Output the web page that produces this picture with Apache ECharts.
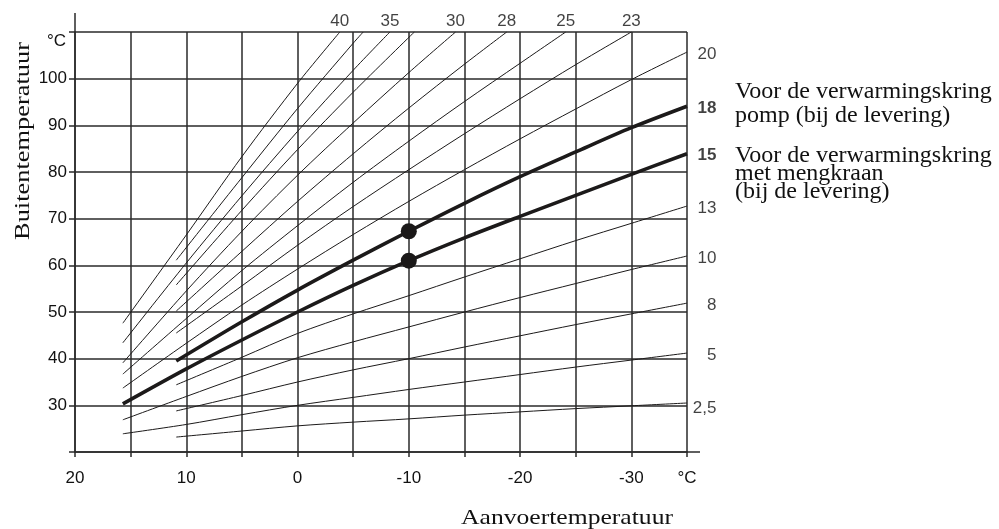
<!DOCTYPE html>
<html><head><meta charset="utf-8">
<script src="https://cdn.jsdelivr.net/npm/echarts@6/dist/echarts.min.js"></script>
<style>html,body{margin:0;padding:0;background:#fff}#c{width:999px;height:529px}</style>
</head><body><div id="c"></div>
<script>
// Outside temperature (x) / flow temperature (y) points, per heating curve
const t_2_5 = [10.9, 5, 0, -5, -10, -15, -20, -25, -30, -35];
const v_2_5 = [23.2, 24.5, 25.6, 26.4, 27.1, 27.9, 28.6, 29.3, 29.9, 30.5];
const t_5 = [15.7, 10, 5, 0, -5, -10, -15, -20, -25, -30, -35];
const v_5 = [23.9, 25.9, 28.0, 30.0, 31.7, 33.4, 35.0, 36.6, 38.2, 39.7, 41.2];
const t_8 = [10.9, 5, 0, -5, -10, -15, -20, -25, -30, -35];
const v_8 = [28.8, 32.1, 35.0, 37.6, 40.0, 42.5, 44.9, 47.3, 49.6, 51.9];
const t_10 = [15.7, 10, 5, 0, -5, -10, -15, -20, -25, -30, -35];
const v_10 = [26.9, 31.9, 36.2, 40.2, 43.6, 46.8, 50.0, 53.1, 56.1, 59.1, 62.0];
const t_13 = [10.9, 5, 0, -5, -10, -15, -20, -25, -30, -35];
const v_13 = [34.4, 40.3, 45.4, 49.6, 53.5, 57.5, 61.4, 65.3, 69.0, 72.7];
const t_15 = [15.7, 10, 5, 0, -5, -10, -15, -20, -25, -30, -35];
const v_15 = [30.3, 37.8, 44.0, 50.0, 55.7, 61.0, 65.9, 70.5, 75.0, 79.5, 83.9];
const t_18 = [10.9, 5, 0, -5, -10, -15, -20, -25, -30, -35];
const v_18 = [39.5, 47.9, 54.7, 61.1, 67.3, 73.3, 79.0, 84.3, 89.5, 94.1];
const t_20 = [15.7, 10, 5, 0, -5, -10, -15, -20, -25, -30, -35];
const v_20 = [33.7, 43.3, 51.5, 59.2, 66.6, 73.7, 80.5, 87.1, 93.5, 99.8, 105.7];
const t_23 = [10.9, 5, 0, -5, -10, -15, -20, -25, -30];
const v_23 = [45.5, 55.6, 64.3, 72.6, 80.5, 88.2, 95.7, 103.0, 110];
const t_25 = [15.7, 10, 5, 0, -5, -10, -15, -20, -24.1];
const v_25 = [36.7, 48.6, 58.9, 68.5, 77.8, 86.6, 95.1, 103.3, 110];
const t_28 = [10.9, 5, 0, -5, -10, -15, -18.8];
const v_28 = [50.2, 63.0, 73.7, 83.9, 93.7, 103.1, 110];
const t_30 = [15.7, 10, 5, 0, -5, -10, -14.2];
const v_30 = [39.1, 54.5, 67.3, 79.3, 90.5, 101.3, 110];
const t_33 = [10.9, 5, 0, -5, -10.5];
const v_33 = [55.8, 71.8, 84.8, 97.1, 110];
const t_35 = [15.7, 10, 5, 0, -5, -8.3];
const v_35 = [43.4, 60.5, 74.9, 88.7, 101.8, 110];
const t_38 = [10.9, 5, 0, -5, -5.9];
const v_38 = [61.1, 78.8, 93.6, 107.6, 110];
const t_40 = [15.7, 10, 5, 0, -3.8];
const v_40 = [47.6, 66.5, 83.3, 99.0, 110];

// Marked points
const dotT = [-10, -10];
const dotV = [67.3, 61.0];

// Axis tick labels
const xLabelValues = [20, 10, 0, -10, -20, -30];
const xUnitLabel = '°C';
const yLabelValues = [30, 40, 50, 60, 70, 80, 90, 100];

const curves = [
  ['2,5', t_2_5, v_2_5], ['5', t_5, v_5], ['8', t_8, v_8], ['10', t_10, v_10],
  ['13', t_13, v_13], ['15', t_15, v_15], ['18', t_18, v_18], ['20', t_20, v_20],
  ['23', t_23, v_23], ['25', t_25, v_25], ['28', t_28, v_28], ['30', t_30, v_30],
  ['33', t_33, v_33], ['35', t_35, v_35], ['38', t_38, v_38], ['40', t_40, v_40]
];

const INK = '#111111';
const GRID = '#2a2a2a';
const SANS = "'Liberation Sans', Arial, Helvetica, sans-serif";
const SERIF = "'Liberation Serif', 'Times New Roman', serif";
const heavy = {'18': true, '15': true};
const topLabeled = {'40': 1, '35': 1, '30': 1, '28': 1, '25': 1, '23': 1};
const rightLabeled = {'20': 1, '18': 1, '15': 1, '13': 1, '10': 1, '8': 1, '5': 1, '2,5': 1};

const series = curves.map(([name, t, v]) => ({
  type: 'line', name, silent: true, showSymbol: false, smooth: 0.3, z: heavy[name] ? 4 : 3,
  data: t.map((x, i) => [x, v[i]]),
  lineStyle: {color: '#1c1a1a', width: heavy[name] ? 3.6 : 1}
}));

const labelData = curves.filter(c => topLabeled[c[0]] || rightLabeled[c[0]]).map(([name, t, v]) => {
  const k = t.length - 1;
  const lab = topLabeled[name]
    ? {show: true, position: 'top', distance: 2, formatter: name}
    : {show: true, position: 'right', distance: 29, align: 'right', offset: [0, name === '2,5' ? 5 : 2],
       formatter: name, fontWeight: heavy[name] ? 'bold' : 'normal'};
  return {value: [t[k], v[k]], label: lab};
});

series.push({
  type: 'scatter', silent: true, clip: false, symbolSize: 1, z: 6,
  itemStyle: {color: 'rgba(0,0,0,0)'},
  label: {color: INK, fontSize: 17, fontFamily: SANS},
  data: labelData
});
series.push({
  type: 'scatter', silent: true, symbol: 'circle', symbolSize: 16, z: 7,
  itemStyle: {color: '#1a1818', opacity: 1},
  data: dotT.map((x, i) => [x, dotV[i]])
});

const chart = echarts.init(document.getElementById('c'), null, {renderer: 'canvas'});
chart.setOption({
  animation: false,
  backgroundColor: '#fff',
  grid: {left: 75, right: 312, top: 32, bottom: 77},
  xAxis: {
    type: 'value', inverse: true, min: -35, max: 20, interval: 5,
    axisLine: {show: true, onZero: false, lineStyle: {color: GRID, width: 1.5}},
    axisTick: {show: true, length: 5, lineStyle: {color: GRID, width: 1.5}},
    splitLine: {show: true, lineStyle: {color: GRID, width: 1.5}},
    axisLabel: {
      showMinLabel: true, showMaxLabel: true, margin: 18, color: INK, fontSize: 17, fontFamily: SANS,
      formatter: v => v === -35 ? xUnitLabel : (xLabelValues.indexOf(v) >= 0 ? String(v) : '')
    }
  },
  yAxis: {
    type: 'value', min: 20, max: 110, interval: 10,
    axisLine: {show: true, onZero: false, lineStyle: {color: GRID, width: 1.5}},
    axisTick: {show: true, length: 6, lineStyle: {color: GRID, width: 1.5}},
    splitLine: {show: true, lineStyle: {color: GRID, width: 1.5}},
    axisLabel: {
      showMinLabel: true, showMaxLabel: true, margin: 8, color: INK, fontSize: 17, fontFamily: SANS,
      formatter: v => yLabelValues.indexOf(v) >= 0 ? String(v) : ''
    }
  },
  graphic: [
    {type: 'line', silent: true, shape: {x1: 75, y1: 13, x2: 75, y2: 32}, style: {stroke: GRID, lineWidth: 1.5}},
    {type: 'line', silent: true, shape: {x1: 687, y1: 452, x2: 700, y2: 452}, style: {stroke: GRID, lineWidth: 1.5}},
    {type: 'text', silent: true, x: 66, y: 41, style: {text: '°C', font: '17px ' + SANS, fill: INK, textAlign: 'right', textVerticalAlign: 'middle'}},
    {type: 'text', silent: true, x: 23, y: 141, rotation: Math.PI / 2, scaleX: 1.2,
     style: {text: 'Buitentemperatuur', font: '22px ' + SERIF, fill: INK, textAlign: 'center', textVerticalAlign: 'middle'}},
    {type: 'text', silent: true, x: 567, y: 518, scaleX: 1.22,
     style: {text: 'Aanvoertemperatuur', font: '21px ' + SERIF, fill: INK, textAlign: 'center', textVerticalAlign: 'middle'}},
    {type: 'text', silent: true, x: 735, y: 92, style: {text: 'Voor de verwarmingskring', font: '24px ' + SERIF, fill: INK, textAlign: 'left', textVerticalAlign: 'middle'}},
    {type: 'text', silent: true, x: 735, y: 116, style: {text: 'pomp (bij de levering)', font: '24px ' + SERIF, fill: INK, textAlign: 'left', textVerticalAlign: 'middle'}},
    {type: 'text', silent: true, x: 735, y: 156, style: {text: 'Voor de verwarmingskring', font: '24px ' + SERIF, fill: INK, textAlign: 'left', textVerticalAlign: 'middle'}},
    {type: 'text', silent: true, x: 735, y: 174, style: {text: 'met mengkraan', font: '24px ' + SERIF, fill: INK, textAlign: 'left', textVerticalAlign: 'middle'}},
    {type: 'text', silent: true, x: 735, y: 192, style: {text: '(bij de levering)', font: '24px ' + SERIF, fill: INK, textAlign: 'left', textVerticalAlign: 'middle'}}
  ],
  series
});
</script></body></html>
